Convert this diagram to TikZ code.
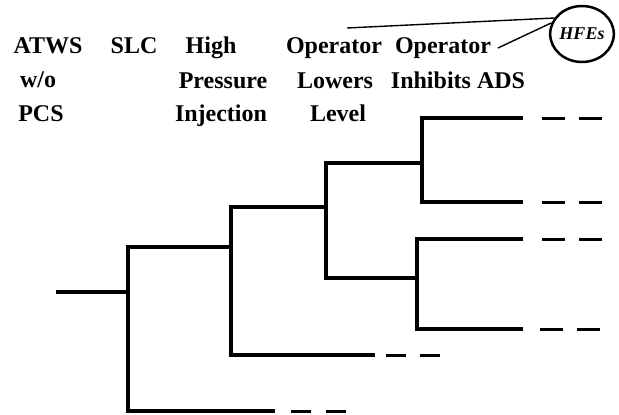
\documentclass[tikz,border=0pt]{standalone}
\usepackage{fontspec}
\setmainfont{Liberation Serif}
\usetikzlibrary{shapes.geometric}
\begin{document}
\begin{tikzpicture}[x=1pt,y=-1pt,
  lbl/.style={anchor=base,inner sep=0pt,font=\fontsize{24}{24}\selectfont\bfseries},
  tree/.style={line width=4.2pt,line join=miter,line cap=butt},
  tail/.style={line width=3pt,dash pattern=on 23pt off 14pt},
  thinline/.style={line width=1.4pt}]
\useasboundingbox (0,0) rectangle (619,415);
% column headings
\node[lbl] (t1a) at (48,53) {ATWS};
\node[lbl] (t1b) at (38,87) {w/o};
\node[lbl] (t1c) at (41,121) {PCS};
\node[lbl] (t2a) at (134,53) {SLC};
\node[lbl] (t3a) at (211,53) {High};
\node[lbl] (t3b) at (223,88) {Pressure};
\node[lbl] (t3c) at (221,121) {Injection};
\node[lbl] (t4a) at (334,53) {Operator};
\node[lbl] (t4b) at (335,88) {Lowers};
\node[lbl] (t4c) at (338,121) {Level};
\node[lbl] (t5a) at (443,53) {Operator};
\node[lbl] (t5b) at (458,88) {Inhibits ADS};
% HFEs callout
\node[draw,ellipse,line width=2.5pt,minimum width=50pt,minimum height=56pt,inner sep=0pt,
      font=\fontsize{18}{18}\selectfont\bfseries\itshape] (hfe) at (582,34) {HFEs};
\coordinate (c1) at (347,28);
\coordinate (c2) at (498,48);
\draw[thinline] (c1) -- (hfe.150);
\draw[thinline] (c2) -- (hfe.160);
% tree coordinates
\coordinate (r0) at (56,292);
\coordinate (r1) at (128,292);
\coordinate (s1) at (231,247);
\coordinate (s2) at (128,247);
\coordinate (s3) at (128,411);
\coordinate (s4) at (275,411);
\coordinate (h1) at (325,207);
\coordinate (h2) at (231,207);
\coordinate (h3) at (231,355);
\coordinate (h4) at (375,355);
\coordinate (l1) at (422,163);
\coordinate (l2) at (326,163);
\coordinate (l3) at (326,278);
\coordinate (l4) at (417,278);
\coordinate (a1) at (523,118);
\coordinate (a2) at (422,118);
\coordinate (a3) at (422,202);
\coordinate (a4) at (523,202);
\coordinate (b1) at (523,239);
\coordinate (b2) at (417,239);
\coordinate (b3) at (417,329);
\coordinate (b4) at (523,329);
% tree
\draw[tree] (r0) -- (r1);
\draw[tree] (s1) -- (s2) -- (s3) -- (s4);
\draw[tree] (h1) -- (h2) -- (h3) -- (h4);
\draw[tree] (l1) -- (l2) -- (l3) -- (l4);
\draw[tree] (a1) -- (a2) -- (a3) -- (a4);
\draw[tree] (b1) -- (b2) -- (b3) -- (b4);
% dashed continuations
\draw[tail,dash pattern=on 20pt off 15pt] (s4) ++(16,0) -- ++(55,0);
\draw[tail,dash pattern=on 20pt off 14pt] (h4) ++(11,0) -- ++(54,0);
\draw[tail] (a1) ++(19,0) -- ++(60,0);
\draw[tail] (a4) ++(19,0) -- ++(60,0);
\draw[tail] (b1) ++(19,0) -- ++(60,0);
\draw[tail] (b4) ++(17,0) -- ++(60,0);
\end{tikzpicture}
\end{document}
